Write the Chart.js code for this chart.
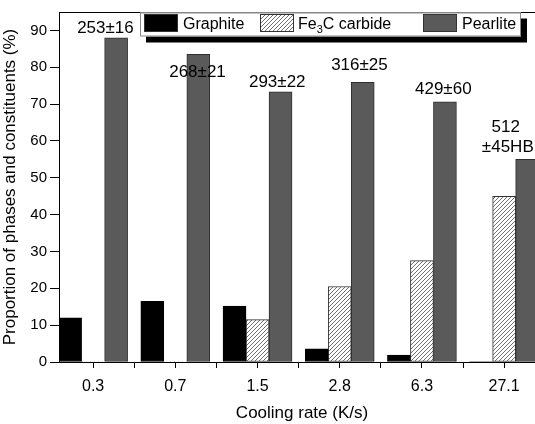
<!DOCTYPE html>
<html>
<head>
<meta charset="utf-8">
<script src="https://cdn.jsdelivr.net/npm/chart.js@4"></script>
<style>
html, body { margin: 0; padding: 0; background: #fff; overflow: hidden; }
#wrap { width: 545px; height: 424px; }
</style>
</head>
<body>
<div id="wrap"><canvas id="barChart" width="545" height="424"></canvas></div>
<script>
// cooling rates (K/s) and phase proportions (%)
var rates = ['0.3', '0.7', '1.5', '2.8', '6.3', '27.1'];
var graphite = [12, 16.5, 15.2, 3.6, 1.9, 0];
var carbide = [0, 0, 11.5, 20.5, 27.5, 45];
var pearlite = [88, 83.5, 73.3, 75.9, 70.6, 55];
// hardness HB written above the groups
var hardness = [['253±16'], ['268±21'], ['293±22'], ['316±25'], ['429±60'], ['512', '±45HB']];
// where each hardness label sits: y in %, x shift in categories
var hardnessY = [90.5, 78.5, 75.8, 80.6, 74, 63.8];
var hardnessDx = [0.15, 0.27, 0.24, 0.24, 0.26, 0.02];

var FONT = 'Liberation Sans, Arial, sans-serif';
Chart.defaults.font.family = FONT;
Chart.defaults.color = '#000';

function hatch() {
	var c = document.createElement('canvas');
	c.width = 4; c.height = 4;
	var g = c.getContext('2d');
	g.fillStyle = '#fff';
	g.fillRect(0, 0, 4, 4);
	g.strokeStyle = '#6e6e6e';
	g.lineWidth = 1;
	g.beginPath();
	g.moveTo(0, 4); g.lineTo(4, 0);
	g.moveTo(-1, 1); g.lineTo(1, -1);
	g.moveTo(3, 5); g.lineTo(5, 3);
	g.stroke();
	return g.createPattern(c, 'repeat');
}

function points(arr) {
	return arr.map(function (v, i) { return { x: i, y: v }; });
}

var noZeroBorder = function (ctx) { return ctx.raw && ctx.raw.y ? 1 : 0; };

// frame line on top + hardness labels + boxed legend
var extrasPlugin = {
	id: 'extras',
	afterDatasetsDraw: function (chart) {
		var c = chart.ctx, a = chart.chartArea;
		var xs = chart.scales.x, ys = chart.scales.y;
		c.save();
		c.strokeStyle = '#000';
		c.lineWidth = 1;
		c.beginPath();
		c.moveTo(a.left, a.top + 0.5);
		c.lineTo(a.right, a.top + 0.5);
		c.stroke();
		c.fillStyle = '#000';
		c.font = '17px ' + FONT;
		c.textAlign = 'center';
		c.textBaseline = 'middle';
		hardness.forEach(function (lines, i) {
			var px = xs.getPixelForValue(i + hardnessDx[i]);
			var py = ys.getPixelForValue(hardnessY[i]);
			lines.forEach(function (t, k) {
				c.fillText(t, px + k * 2, py + k * 20);
			});
		});
		c.restore();
	},
	afterDraw: function (chart) {
		var c = chart.ctx;
		var x0 = 140, y0 = 12.5, w = 381, h = 24;
		c.save();
		c.fillStyle = '#000';
		c.fillRect(x0 + 6, y0 + 6, w, h);
		c.fillStyle = '#fff';
		c.fillRect(x0, y0, w, h);
		c.strokeStyle = '#8a8a8a';
		c.lineWidth = 1;
		c.strokeRect(x0 + 0.5, y0 + 0.5, w - 1, h - 1);

		var sw = [144, 260, 423];
		var tx = [183, 298, 462];
		chart.data.datasets.forEach(function (ds, i) {
			c.fillStyle = ds.backgroundColor;
			c.fillRect(sw[i], 14, 34, 18);
			c.strokeStyle = '#333';
			c.strokeRect(sw[i] + 0.5, 14.5, 33, 17);
		});
		c.fillStyle = '#000';
		c.textBaseline = 'alphabetic';
		c.font = '16px ' + FONT;
		c.fillText('Graphite', tx[0], 29);
		c.fillText('Pearlite', tx[2], 29);
		c.fillText('Fe', tx[1], 29);
		var fe = c.measureText('Fe').width;
		c.font = '11px ' + FONT;
		c.fillText('3', tx[1] + fe, 33);
		var sub = c.measureText('3').width;
		c.font = '16px ' + FONT;
		c.fillText('C carbide', tx[1] + fe + sub, 29);
		c.restore();
	}
};

const ctx = document.getElementById('barChart');
new Chart(ctx, {
	type: 'bar',
	data: {
		datasets: [{
			label: 'Graphite',
			data: points(graphite),
			backgroundColor: '#000',
			borderColor: '#000',
			borderWidth: noZeroBorder
		}, {
			label: 'Fe3C carbide',
			data: points(carbide),
			backgroundColor: hatch(),
			borderColor: '#333',
			borderWidth: noZeroBorder
		}, {
			label: 'Pearlite',
			data: points(pearlite),
			backgroundColor: '#5a5a5a',
			borderColor: '#2e2e2e',
			borderWidth: noZeroBorder
		}]
	},
	options: {
		responsive: false,
		animation: false,
		barThickness: 23,
		borderSkipped: false,
		layout: { padding: { top: 6, right: 0, left: 0, bottom: 0 } },
		scales: {
			x: {
				type: 'linear',
				offset: false,
				min: -0.415,
				max: 5.497,
				afterFit: function (s) { s.height = 62; },
				border: { display: true, color: '#000', width: 1 },
				grid: { offset: false, drawOnChartArea: false, drawTicks: true, tickLength: 6, color: '#000' },
				ticks: {
					stepSize: 0.5,
					maxTicksLimit: 30,
					includeBounds: false,
					autoSkip: false,
					maxRotation: 0,
					padding: 9,
					font: { size: 16 },
					callback: function (v) { return Number.isInteger(v) ? rates[v] : ''; }
				},
				title: {
					display: true,
					text: 'Cooling rate (K/s)',
					font: { size: 17 },
					padding: { top: 1, bottom: 0 }
				}
			},
			y: {
				min: 0,
				max: 95,
				afterFit: function (s) { s.width = 59; },
				border: { display: true, color: '#000', width: 1 },
				grid: { drawOnChartArea: false, drawTicks: true, tickLength: 9, color: '#000' },
				ticks: {
					stepSize: 5,
					maxTicksLimit: 30,
					padding: 3,
					font: { size: 15 },
					callback: function (v) { return v % 10 === 0 ? v : ''; }
				},
				title: {
					display: true,
					text: 'Proportion of phases and constituents (%)',
					font: { size: 17 },
					padding: { top: 0, bottom: 0 }
				}
			}
		},
		plugins: {
			legend: { display: false },
			tooltip: { enabled: false }
		}
	},
	plugins: [extrasPlugin]
});
</script>
</body>
</html>
